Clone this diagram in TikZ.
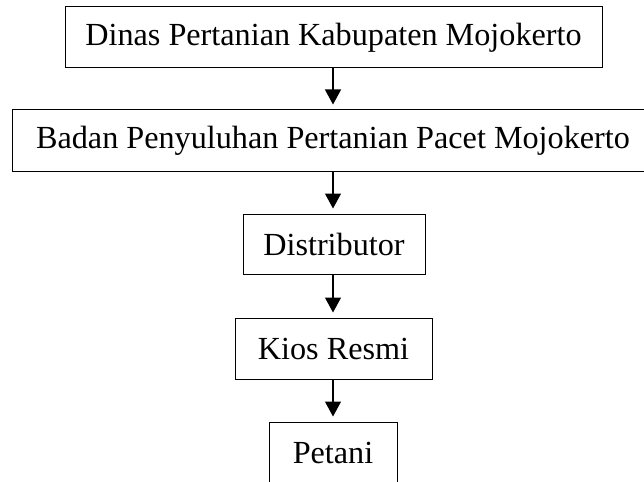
\documentclass[tikz,border=0pt]{standalone}
\usepackage{fontspec}
\setmainfont{Liberation Serif}
\usetikzlibrary{arrows.meta}
\begin{document}
\begin{tikzpicture}[x=1pt,y=-1pt,
  box/.style={draw,line width=1pt,rectangle,inner sep=0pt,font=\fontsize{32.2}{38}\selectfont},
  flow/.style={draw,line width=1.2pt,-{Triangle[width=16pt,length=15pt]},shorten >=5pt}]
\useasboundingbox (0,0) rectangle (644,481);
\clip (0,0) rectangle (644,481);
\node[box,minimum width=537pt,minimum height=61pt] (b1) at (333.5,37.5) {Dinas Pertanian Kabupaten Mojokerto};
\node[box,minimum width=642pt,minimum height=61pt] (b2) at (333,140.5) {Badan Penyuluhan Pertanian Pacet Mojokerto};
\node[box,minimum width=182pt,minimum height=60pt] (b3) at (334,244) {Distributor};
\node[box,minimum width=197pt,minimum height=61pt] (b4) at (333.5,348.5) {Kios Resmi};
\node[box,minimum width=128pt,minimum height=62pt] (b5) at (333,453) {Petani};
\coordinate (ax) at (333,0);
\draw[flow] (b1.south -| ax) -- (b2.north -| ax);
\draw[flow] (b2.south -| ax) -- (b3.north -| ax);
\draw[flow] (b3.south -| ax) -- (b4.north -| ax);
\draw[flow] (b4.south -| ax) -- (b5.north -| ax);
\end{tikzpicture}
\end{document}
